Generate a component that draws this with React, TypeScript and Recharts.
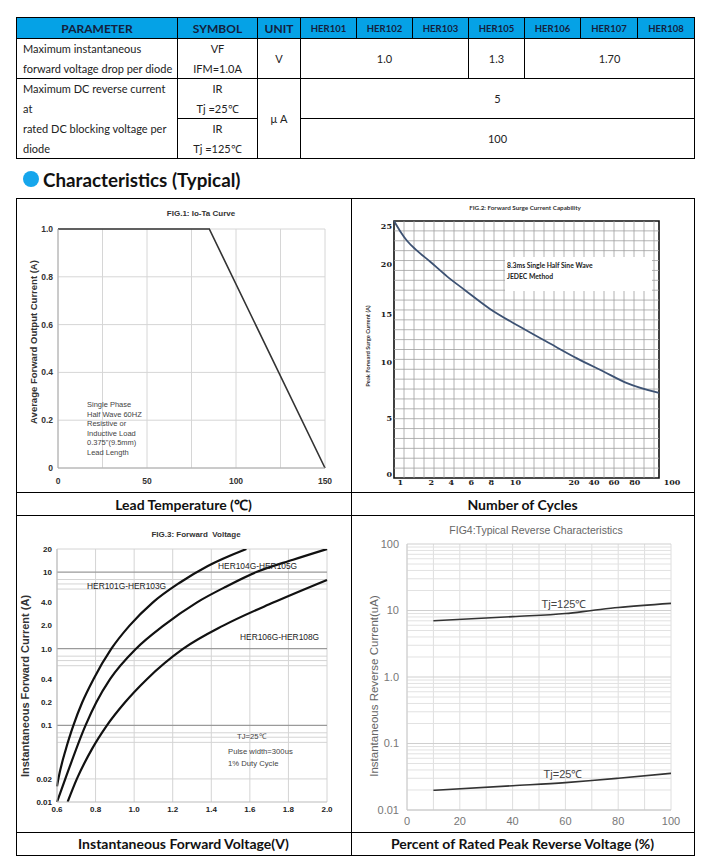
import React from 'react'
import { LineChart, Line, XAxis, YAxis, CartesianGrid, ReferenceLine, ReferenceArea } from 'recharts'

// ---- spec table ----
const tableHead = ['PARAMETER', 'SYMBOL', 'UNIT']
const partNumbers = ['HER101', 'HER102', 'HER103', 'HER105', 'HER106', 'HER107', 'HER108']
const vfParam = ['Maximum instantaneous', 'forward voltage drop per diode']
const vfSymbol = ['VF', 'IFM=1.0A']
const vfUnit = 'V'
const vfValues = ['1.0', '1.3', '1.70']
const irParam = ['Maximum DC reverse current', 'at', 'rated DC blocking voltage per', 'diode']
const irSymbols = [['IR', 'Tj =25℃'], ['IR', 'Tj =125℃']]
const irUnit = 'μ A'
const irValues = ['5', '100']

// ---- FIG.1 Io-Ta ----
const ioTemp = [0, 85, 150]
const ioCurrent = [1.0, 1.0, 0]
const ioXTicks = [0, 25, 50, 75, 100, 125, 150]
const ioXLabels = ['0', '', '50', '', '100', '', '150']
const ioYTicks = [0, 0.2, 0.4, 0.6, 0.8, 1.0]
const ioYLabels = ['0', '0.2', '0.4', '0.6', '0.8', '1.0']
const ioNote = ['Single Phase', 'Half Wave 60HZ', 'Resistive or', 'Inductive Load', '0.375"(9.5mm)', 'Lead Length']

// ---- FIG.2 surge (printed axes are not to scale, so positions are in grid cells) ----
const surgeCol = [0, 0.6, 1.3, 2.3, 3.6, 5.3, 7.1, 9.6, 12.6, 15.6, 18.3, 20.9, 23.3, 26.5]
const surgeRow = [26.0, 25.0, 24.0, 23.0, 21.9, 20.4, 19.0, 17.1, 15.3, 13.6, 12.1, 10.8, 9.6, 8.6]
const cycleLabels = ['1', '2', '4', '6', '8', '10', '20', '40', '60', '80', '100']
const cycleLabelCol = [0.64, 3.74, 5.74, 7.74, 9.74, 12.14, 18.0, 20.0, 22.0, 24.07, 27.8]
const surgeLabels = ['0', '5', '10', '15', '20', '25']
const surgeLabelRow = [0.37, 6.1, 11.7, 16.6, 21.6, 25.5]

// ---- FIG.3 forward voltage ----
const vfA = [0.6, 0.607, 0.647, 0.685, 0.731, 0.789, 0.882, 0.976, 1.096, 1.234, 1.382, 1.582]
const ifA = [0.016, 0.02, 0.05, 0.1, 0.2, 0.4, 1.0, 2.0, 4.0, 7.2, 12.0, 20]
const vfB = [0.6, 0.643, 0.748, 0.804, 0.875, 1.01, 1.152, 1.324, 1.479, 1.634, 1.824, 2.0]
const ifB = [0.01, 0.02, 0.1, 0.2, 0.4, 1.0, 2.0, 4.0, 6.5, 10, 14.5, 20]
const vfC = [0.655, 0.703, 0.781, 0.859, 0.953, 1.066, 1.255, 1.462, 1.721, 2.0]
const ifC = [0.01, 0.02, 0.049, 0.1, 0.2, 0.4, 1.0, 2.0, 4.0, 7.9]
const fvXTicks = [0.6, 0.8, 1.0, 1.2, 1.4, 1.6, 1.8, 2.0]
const fvYTicks = [0.01, 0.02, 0.1, 0.2, 0.4, 1, 2, 4, 10, 20]
const fvYLabels = ['0.01', '0.02', '0.1', '0.2', '0.4', '1.0', '2.0', '4.0', '10', '20']
const fvGridMajor = [0.1, 1, 10]
const fvGridMinor = [0.02, 0.06, 0.07, 0.08, 0.6, 0.7, 0.8, 6, 7, 8, 20]

// ---- FIG.4 reverse ----
const pctV = [10, 40, 60, 70, 80, 100]
const ir125 = [7.0, 8.1, 9.0, 10.0, 11.1, 12.8]
const ir25 = [0.0198, 0.0232, 0.0258, 0.0277, 0.03, 0.0356]
const rvXTicks = [0, 10, 20, 30, 40, 50, 60, 70, 80, 90, 100]
const rvYTicks = [0.01, 0.1, 1, 10, 100]
const rvYLabels = ['0.01', '0.1', '1.0', '10', '100']

const ARIAL = '"Liberation Sans", Arial, sans-serif'
const CALIBRI = 'Lato, "Liberation Sans", sans-serif'
const SERIF = '"DejaVu Serif", "Liberation Serif", serif'
const COLS = [16, 177, 257, 300, 356, 412, 468, 524, 580, 637, 694]

function Cell({ x0, x1, y0, y1, bg = '#fff', left = false, children }: any) {
  return (
    <div style={{
      position: 'absolute', left: x0, top: y0, width: x1 - x0 + 1, height: y1 - y0 + 1,
      boxSizing: 'border-box', border: '1px solid #000', background: bg,
      display: 'flex', flexDirection: 'column', justifyContent: 'center',
      alignItems: left ? 'flex-start' : 'center', paddingLeft: left ? 6 : 0,
      fontFamily: CALIBRI, fontSize: 11, color: '#222', whiteSpace: 'nowrap'
    }}>{children}</div>
  )
}

function Txt({ x, y, size, children, weight = 400, color = '#333', font = ARIAL, mid = false, rot = false }: any) {
  const tf = rot ? 'translate(-50%,-50%) rotate(-90deg)' : mid ? 'translate(-50%,-50%)' : 'translateY(-50%)'
  return (
    <div style={{
      position: 'absolute', left: x, top: y, transform: tf, fontSize: size, fontWeight: weight,
      color, fontFamily: font, whiteSpace: 'nowrap', lineHeight: 1.15
    }}>{children}</div>
  )
}

function SpecTable() {
  const head = { fontWeight: 700, color: '#14213d' }
  return (
    <>
      {tableHead.map((h, i) => (
        <Cell key={h} x0={COLS[i]} x1={COLS[i + 1]} y0={17} y1={38} bg="#05a2e6">
          <span style={{ ...head, fontSize: 12 }}>{h}</span>
        </Cell>
      ))}
      {partNumbers.map((p, i) => (
        <Cell key={p} x0={COLS[i + 3]} x1={COLS[i + 4]} y0={17} y1={38} bg="#05a2e6">
          <span style={{ ...head, fontSize: 9.5 }}>{p}</span>
        </Cell>
      ))}
      <Cell x0={COLS[0]} x1={COLS[1]} y0={38} y1={78} left>
        {vfParam.map(s => <div key={s} style={{ lineHeight: '20px' }}>{s}</div>)}
      </Cell>
      <Cell x0={COLS[1]} x1={COLS[2]} y0={38} y1={78}>
        {vfSymbol.map(s => <div key={s} style={{ lineHeight: '20px' }}>{s}</div>)}
      </Cell>
      <Cell x0={COLS[2]} x1={COLS[3]} y0={38} y1={78}>{vfUnit}</Cell>
      <Cell x0={COLS[3]} x1={COLS[6]} y0={38} y1={78}>{vfValues[0]}</Cell>
      <Cell x0={COLS[6]} x1={COLS[7]} y0={38} y1={78}>{vfValues[1]}</Cell>
      <Cell x0={COLS[7]} x1={COLS[10]} y0={38} y1={78}>{vfValues[2]}</Cell>
      <Cell x0={COLS[0]} x1={COLS[1]} y0={78} y1={158} left>
        {irParam.map(s => <div key={s} style={{ lineHeight: '20px' }}>{s}</div>)}
      </Cell>
      {irSymbols.map((sym, r) => (
        <Cell key={r} x0={COLS[1]} x1={COLS[2]} y0={78 + r * 40} y1={118 + r * 40}>
          {sym.map(s => <div key={s} style={{ lineHeight: '20px' }}>{s}</div>)}
        </Cell>
      ))}
      <Cell x0={COLS[2]} x1={COLS[3]} y0={78} y1={158}>{irUnit}</Cell>
      {irValues.map((v, r) => (
        <Cell key={v} x0={COLS[3]} x1={COLS[10]} y0={78 + r * 40} y1={118 + r * 40}>{v}</Cell>
      ))}
    </>
  )
}

function Fig1() {
  const data = ioTemp.map((t, i) => ({ t, io: ioCurrent[i] }))
  const tick = { fontSize: 8.5, fontWeight: 700, fill: '#333', fontFamily: ARIAL }
  return (
    <div style={{ position: 'absolute', left: 16, top: 198 }}>
      <LineChart width={335} height={294} data={data} margin={{ top: 31, right: 26, bottom: 4, left: 12 }}>
        <CartesianGrid stroke="#d6d6d6" />
        <XAxis type="number" dataKey="t" domain={[0, 150]} ticks={ioXTicks} interval={0}
          tickFormatter={(v: number) => ioXLabels[ioXTicks.indexOf(v)]}
          height={20} tickLine={false} tickSize={0} tickMargin={10} axisLine={{ stroke: '#aaa' }} tick={tick} />
        <YAxis type="number" domain={[0, 1]} ticks={ioYTicks} interval={0}
          tickFormatter={(v: number) => ioYLabels[ioYTicks.indexOf(v)]}
          width={30} tickLine={false} tickSize={0} tickMargin={5} axisLine={{ stroke: '#aaa' }} tick={tick} />
        <Line type="linear" dataKey="io" stroke="#333" strokeWidth={1.6} dot={false} isAnimationActive={false} />
      </LineChart>
    </div>
  )
}

function Fig2() {
  const data = surgeCol.map((c, i) => ({ c, r: surgeRow[i] }))
  const tick = { fontSize: 8, fontWeight: 700, fill: '#222', fontFamily: SERIF }
  const vLines = Array.from({ length: 26 }, (_, i) => i + 1)
  const hLines = Array.from({ length: 25 }, (_, i) => i + 1)
  return (
    <div style={{ position: 'absolute', left: 351, top: 198 }}>
      <LineChart width={343} height={294} margin={{ top: 23, right: 20, bottom: 0, left: 15 }}>
        <XAxis type="number" dataKey="c" domain={[0, 28]} ticks={cycleLabelCol} interval={0}
          tickFormatter={(v: number) => cycleLabels[cycleLabelCol.indexOf(v)]}
          height={14} axisLine={false} tickLine={false} tickSize={0} tickMargin={1} tick={tick} />
        <YAxis type="number" domain={[0, 26]} ticks={surgeLabelRow} interval={0}
          tickFormatter={(v: number) => surgeLabels[surgeLabelRow.indexOf(v)]}
          width={28} axisLine={false} tickLine={false} tickSize={0} tickMargin={2} tick={tick} />
        {vLines.map(c => (
          <ReferenceLine key={'v' + c} segment={[{ x: c, y: 0 }, { x: c, y: 26 }]} stroke="#a0a0a0" strokeWidth={0.8} />
        ))}
        {hLines.map(r => (
          <ReferenceLine key={'h' + r} segment={[{ x: 0, y: r }, { x: 26.5, y: r }]} stroke="#a0a0a0" strokeWidth={0.8} />
        ))}
        <ReferenceArea x1={0} x2={26.5} y1={0} y2={26} fill="none" stroke="#111" strokeWidth={1.6} ifOverflow="extendDomain" />
        <Line data={data} type="monotone" dataKey="r" stroke="#3d5273" strokeWidth={1.8} dot={false} isAnimationActive={false} />
      </LineChart>
    </div>
  )
}

function Fig3() {
  const a = vfA.map((v, i) => ({ v, i: ifA[i] }))
  const b = vfB.map((v, i) => ({ v, i: ifB[i] }))
  const c = vfC.map((v, i) => ({ v, i: ifC[i] }))
  const tick = { fontSize: 8, fontWeight: 700, fill: '#222', fontFamily: ARIAL }
  return (
    <div style={{ position: 'absolute', left: 16, top: 515 }}>
      <LineChart width={335} height={318} margin={{ top: 34, right: 24, bottom: 11, left: 9 }}>
        <CartesianGrid horizontal={false} stroke="#d4d4d4" />
        <XAxis type="number" dataKey="v" domain={[0.6, 2.0]} ticks={fvXTicks} interval={0}
          tickFormatter={(v: number) => v.toFixed(1)}
          height={20} axisLine={{ stroke: '#bbb' }} tickLine={false} tickSize={0} tickMargin={4} tick={tick} />
        <YAxis type="number" scale="log" domain={[0.01, 20]} allowDataOverflow ticks={fvYTicks} interval={0}
          tickFormatter={(v: number) => fvYLabels[fvYTicks.indexOf(v)]}
          width={32} axisLine={{ stroke: '#bbb' }} tickLine={false} tickSize={0} tickMargin={5} tick={tick} />
        {fvGridMinor.map(y => <ReferenceLine key={'m' + y} y={y} stroke="#d4d4d4" />)}
        {fvGridMajor.map(y => <ReferenceLine key={'M' + y} y={y} stroke="#9a9a9a" strokeWidth={1.2} />)}
        <Line data={a} type="monotone" dataKey="i" stroke="#111" strokeWidth={2.2} dot={false} isAnimationActive={false} />
        <Line data={b} type="monotone" dataKey="i" stroke="#111" strokeWidth={2.2} dot={false} isAnimationActive={false} />
        <Line data={c} type="monotone" dataKey="i" stroke="#111" strokeWidth={2.2} dot={false} isAnimationActive={false} />
      </LineChart>
    </div>
  )
}

function Fig4() {
  const data = pctV.map((p, i) => ({ p, hot: ir125[i], cold: ir25[i] }))
  const tick = { fontSize: 11, fill: '#777', fontFamily: ARIAL }
  const minor = [0.01, 0.1, 1, 10].flatMap(d => [2, 3, 4, 5, 6, 7, 8, 9].map(k => +(d * k).toPrecision(2)))
  return (
    <div style={{ position: 'absolute', left: 351, top: 515 }}>
      <LineChart width={343} height={318} data={data} margin={{ top: 29, right: 23, bottom: 5, left: 20 }}>
        <CartesianGrid horizontal={false} stroke="#dedede" />
        <XAxis type="number" dataKey="p" domain={[0, 100]} ticks={rvXTicks} interval={0}
          tickFormatter={(v: number) => (v % 20 === 0 ? String(v) : '')}
          height={18} axisLine={{ stroke: '#ccc' }} tickLine={false} tickSize={0} tickMargin={7} tick={tick} />
        <YAxis type="number" scale="log" domain={[0.01, 100]} allowDataOverflow ticks={rvYTicks} interval={0}
          tickFormatter={(v: number) => rvYLabels[rvYTicks.indexOf(v)]}
          width={36} axisLine={{ stroke: '#ccc' }} tickLine={false} tickSize={0} tickMargin={8} tick={tick} />
        {minor.map(y => <ReferenceLine key={'m' + y} y={y} stroke="#e2e2e2" />)}
        {rvYTicks.map(y => <ReferenceLine key={'M' + y} y={y} stroke="#cfcfcf" />)}
        <Line type="monotone" dataKey="hot" stroke="#333" strokeWidth={1.6} dot={false} isAnimationActive={false} />
        <Line type="monotone" dataKey="cold" stroke="#333" strokeWidth={1.6} dot={false} isAnimationActive={false} />
      </LineChart>
    </div>
  )
}

function Frame() {
  const line = (x: number, y: number, w: number, h: number) => (
    <div style={{ position: 'absolute', left: x, top: y, width: w, height: h, background: '#000' }} />
  )
  return (
    <>
      {line(16, 198, 679, 1)}
      {line(16, 855, 679, 1)}
      {line(16, 198, 1, 658)}
      {line(694, 198, 1, 658)}
      {line(351, 198, 1, 658)}
      {line(16, 492, 679, 1)}
      {line(16, 515, 679, 1)}
      {line(16, 832, 679, 1)}
    </>
  )
}

export default function App() {
  return (
    <div style={{ position: 'absolute', left: 0, top: 0, width: 710, height: 861, background: '#fff', overflow: 'hidden' }}>
      <SpecTable />
      <div style={{ position: 'absolute', left: 23, top: 171, width: 16, height: 16, borderRadius: 8, background: '#16a6ec' }} />
      <Txt x={43} y={180} size={18.8} weight={700} color="#111" font={CALIBRI}>Characteristics (Typical)</Txt>

      <Fig1 />
      <Fig2 />
      <Fig3 />
      <Fig4 />
      <Frame />

      {/* FIG.1 text */}
      <Txt x={201} y={214} size={8} weight={700} mid>FIG.1: Io-Ta Curve</Txt>
      <Txt x={34} y={342} size={9.5} weight={700} rot>Average Forward Output Current (A)</Txt>
      {ioNote.map((s, i) => (
        <Txt key={s} x={87} y={405 + i * 9.5} size={7.5} color="#444">{s}</Txt>
      ))}

      {/* FIG.2 text */}
      <Txt x={525} y={208} size={6.3} weight={700} font={CALIBRI} mid>FIG.2: Forward Surge Current Capability</Txt>
      <Txt x={368} y={346} size={5.8} weight={700} font={CALIBRI} rot>Peak Forward Surge Current (A)</Txt>
      <div style={{ position: 'absolute', left: 505, top: 257, width: 147, height: 34, background: '#fff' }} />
      <Txt x={507} y={266} size={6.8} weight={700} font={CALIBRI} color="#222">8.3ms Single Half Sine Wave</Txt>
      <Txt x={507} y={277} size={6.8} weight={700} font={CALIBRI} color="#222">JEDEC Method</Txt>

      {/* FIG.3 text */}
      <Txt x={196} y={535} size={8} weight={700} mid>FIG.3: Forward&nbsp; Voltage</Txt>
      <Txt x={25} y={686} size={11} weight={700} rot>Instantaneous Forward Current (A)</Txt>
      <Txt x={87} y={587} size={8.4} color="#222">HER101G-HER103G</Txt>
      <Txt x={218} y={567} size={8.4} color="#222">HER104G-HER105G</Txt>
      <Txt x={240} y={638} size={8.4} color="#222">HER106G-HER108G</Txt>
      <Txt x={237} y={737} size={7.7} color="#444">TJ=25℃</Txt>
      <Txt x={228} y={752} size={7.7} color="#444">Pulse width=300us</Txt>
      <Txt x={228} y={764} size={7.7} color="#444">1% Duty Cycle</Txt>

      {/* FIG.4 text */}
      <Txt x={536} y={530} size={10.5} color="#666" mid>FIG4:Typical Reverse Characteristics</Txt>
      <Txt x={375} y={686} size={11.5} color="#666" rot>Instantaneous Reverse Current(uA)</Txt>
      <Txt x={564} y={604} size={11} color="#444" mid>Tj=125℃</Txt>
      <Txt x={563} y={774} size={11} color="#444" mid>Tj=25℃</Txt>

      {/* axis captions */}
      <Txt x={183.5} y={505} size={14} weight={700} color="#111" font={CALIBRI} mid>Lead Temperature (℃)</Txt>
      <Txt x={522.5} y={505} size={14} weight={700} color="#111" font={CALIBRI} mid>Number of Cycles</Txt>
      <Txt x={183.5} y={844} size={14} weight={700} color="#111" font={CALIBRI} mid>Instantaneous Forward Voltage(V)</Txt>
      <Txt x={522.5} y={844} size={14} weight={700} color="#111" font={CALIBRI} mid>Percent of Rated Peak Reverse Voltage (%)</Txt>
    </div>
  )
}
